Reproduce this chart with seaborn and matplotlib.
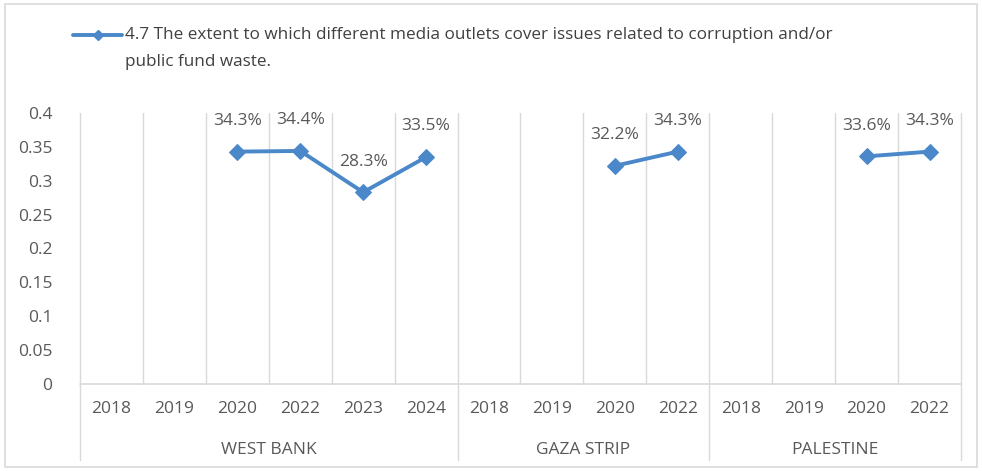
import numpy as np
import pandas as pd
import seaborn as sns
import matplotlib
matplotlib.use("Agg")
import matplotlib.pyplot as plt
from matplotlib.lines import Line2D
from matplotlib.patches import Rectangle

# Survey indicator by region and year (share of respondents)
regions = ["WEST BANK", "GAZA STRIP", "PALESTINE"]
wb_years = ["2018", "2019", "2020", "2022", "2023", "2024"]
gs_years = ["2018", "2019", "2020", "2022"]
pal_years = ["2018", "2019", "2020", "2022"]
wb_values = [np.nan, np.nan, 0.343, 0.344, 0.283, 0.335]
gs_values = [np.nan, np.nan, 0.322, 0.343]
pal_values = [np.nan, np.nan, 0.336, 0.343]
series_label = ("4.7 The extent to which different media outlets cover issues related to corruption and/or\n"
                "public fund waste.")

rows = []
for region, years, vals in zip(regions, [wb_years, gs_years, pal_years],
                               [wb_values, gs_values, pal_values]):
    for y, v in zip(years, vals):
        rows.append({"region": region, "year": y, "value": v})
df = pd.DataFrame(rows)
df["pos"] = np.arange(len(df)) + 0.5

sns.set_theme(style="white")
plt.rcParams["font.family"] = ["Open Sans", "DejaVu Sans"]

LINE = "#4a88c9"
GRID = "#d9d9d9"
TXT = "#595959"

fig = plt.figure(figsize=(9.82, 4.71), dpi=100)
W, H = 982, 471
ax = fig.add_axes([80 / W, 1 - 384 / H, (961 - 80) / W, (384 - 113) / H])

sns.lineplot(data=df.dropna(), x="pos", y="value", units="region", estimator=None,
             color=LINE, linewidth=2.8, marker="D", markersize=8,
             markeredgecolor=LINE, ax=ax, legend=False)

n = len(df)
ax.set_xlim(0, n)
ax.set_ylim(0, 0.4)
yt = np.arange(0, 0.401, 0.05)
ax.set_yticks(yt)
ax.set_yticklabels([("%.2f" % t).rstrip("0").rstrip(".") if t > 0 else "0" for t in yt],
                   color=TXT, fontsize=12.5)
ax.tick_params(axis="y", length=0, pad=20)
ax.set_xticks([])
ax.set_xlabel("")
ax.set_ylabel("")
for s in ax.spines.values():
    s.set_visible(False)

# Vertical gridlines at category boundaries
for b in range(n + 1):
    ax.axvline(b, color=GRID, linewidth=1, zorder=0, clip_on=False)
ax.axhline(0, color=GRID, linewidth=1.2, zorder=0, clip_on=False)

# Data labels
for _, r in df.dropna().iterrows():
    ax.annotate(f"{r['value'] * 100:.1f}%", (r["pos"], r["value"]),
                xytext=(0, 22), textcoords="offset points", ha="center", va="center",
                color=TXT, fontsize=12.5)

# Two-level category axis
trans = ax.get_xaxis_transform()
for _, r in df.iterrows():
    ax.text(r["pos"], -0.092, r["year"], transform=trans, ha="center", va="center",
            color=TXT, fontsize=12.5)
bounds = [0]
for region in regions:
    cnt = (df["region"] == region).sum()
    start = bounds[-1]
    bounds.append(start + cnt)
    ax.text(start + cnt / 2, -0.245, region, transform=trans, ha="center", va="center",
            color=TXT, fontsize=12.5)
for b in bounds:
    ax.plot([b, b], [0, -0.28], transform=trans, color=GRID, linewidth=1, clip_on=False)

# Series key
fig.add_artist(Line2D([73 / W, 122 / W], [1 - 35 / H, 1 - 35 / H], color=LINE, linewidth=2.8,
                      transform=fig.transFigure))
fig.add_artist(Line2D([97.5 / W], [1 - 35 / H], color=LINE, marker="D", markersize=5,
                      linestyle="none", transform=fig.transFigure))
line1, line2 = series_label.split("\n")
fig.text(125 / W, 1 - 35 / H, line1, ha="left", va="center", color="#404040", fontsize=12.3)
fig.text(125 / W, 1 - 62 / H, line2, ha="left", va="center", color="#404040", fontsize=12.3)

# Chart border
fig.add_artist(Rectangle((5 / W, 4 / H), (977 - 5) / W, (467 - 4) / H, fill=False,
                         edgecolor=GRID, linewidth=1.2, transform=fig.transFigure))

fig.savefig("out.png", dpi=100)
